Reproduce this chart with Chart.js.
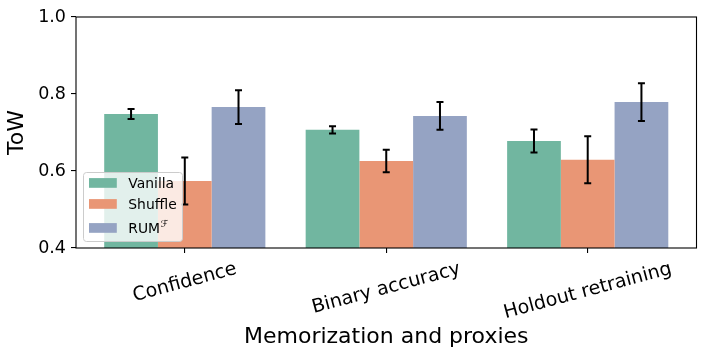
<!DOCTYPE html>
<html>
<head>
<meta charset="utf-8">
<script src="https://cdn.jsdelivr.net/npm/chart.js@4/dist/chart.umd.min.js"></script>
<style>
html,body{margin:0;padding:0;background:#fff;}
#wrap{width:706px;height:358px;}
</style>
</head>
<body>
<div id="wrap"><canvas id="c" width="706" height="358"></canvas></div>
<script>
// ---- data ----
const categories = ['Confidence', 'Binary accuracy', 'Holdout retraining'];
const seriesNames = ['Vanilla', 'Shuffle', 'RUMℱ'];
const vanilla    = [0.748, 0.707, 0.678];
const vanillaErr = [0.013, 0.0095, 0.030];
const shuffle    = [0.574, 0.626, 0.629];
const shuffleErr = [0.061, 0.029, 0.061];
const rum        = [0.766, 0.743, 0.779];
const rumErr     = [0.044, 0.036, 0.049];
const yTicks     = [0.4, 0.6, 0.8, 1.0];

const colors = ['#71b6a0', '#e99675', '#95a3c3'];
const FONT = "'DejaVu Sans', sans-serif";

const values = [vanilla, shuffle, rum];
const errors = [vanillaErr, shuffleErr, rumErr];

const datasets = values.map((vals, k) => ({
  label: seriesNames[k],
  data: vals.map((v, i) => ({x: i, y: v})),
  backgroundColor: colors[k],
  borderWidth: 0,
  categoryPercentage: 0.8,
  barPercentage: 1.0,
  errors: errors[k]
}));

const errorBarPlugin = {
  id: 'errorBars',
  afterDatasetsDraw(chart) {
    const ctx = chart.ctx;
    const y = chart.scales.y;
    ctx.save();
    ctx.strokeStyle = '#000';
    ctx.lineWidth = 2;
    chart.data.datasets.forEach((ds, k) => {
      const meta = chart.getDatasetMeta(k);
      meta.data.forEach((bar, i) => {
        const v = ds.data[i].y, e = ds.errors[i];
        const yt = y.getPixelForValue(v + e), yb = y.getPixelForValue(v - e);
        const x = bar.x;
        ctx.beginPath();
        ctx.moveTo(x, yt); ctx.lineTo(x, yb);
        ctx.moveTo(x - 3.5, yt); ctx.lineTo(x + 3.5, yt);
        ctx.moveTo(x - 3.5, yb); ctx.lineTo(x + 3.5, yb);
        ctx.stroke();
      });
    });
    ctx.restore();
  }
};

const framePlugin = {
  id: 'frameAndLabels',
  afterDraw(chart) {
    const ctx = chart.ctx;
    const a = chart.chartArea;
    ctx.save();
    // frame
    ctx.strokeStyle = '#000';
    ctx.lineWidth = 1.1;
    ctx.strokeRect(a.left, a.top, a.right - a.left, a.bottom - a.top);
    // rotated x tick labels (centered under ticks like matplotlib)
    const xs = chart.scales.x;
    const fs = 19;
    ctx.font = fs + 'px ' + FONT;
    ctx.fillStyle = '#000';
    ctx.textAlign = 'center';
    ctx.textBaseline = 'middle';
    const ang = 15 * Math.PI / 180;
    categories.forEach((lab, i) => {
      const px = xs.getPixelForValue(i);
      const w = ctx.measureText(lab).width;
      const h = fs * 1.17;
      const bh = w * Math.sin(ang) + h * Math.cos(ang);
      const cy = a.bottom + 10 + bh / 2;
      ctx.save();
      ctx.translate(px, cy);
      ctx.rotate(-ang);
      ctx.fillText(lab, 0, 0);
      ctx.restore();
    });
    // legend
    const lx = 83.5, ly = 172.5, lw = 99, lh = 69, r = 3;
    ctx.beginPath();
    ctx.moveTo(lx + r, ly);
    ctx.arcTo(lx + lw, ly, lx + lw, ly + lh, r);
    ctx.arcTo(lx + lw, ly + lh, lx, ly + lh, r);
    ctx.arcTo(lx, ly + lh, lx, ly, r);
    ctx.arcTo(lx, ly, lx + lw, ly, r);
    ctx.closePath();
    ctx.fillStyle = 'rgba(255,255,255,0.8)';
    ctx.fill();
    ctx.strokeStyle = '#cccccc';
    ctx.lineWidth = 1;
    ctx.stroke();
    const rows = [183, 204, 228];
    chart.data.datasets.forEach((ds, k) => {
      const cy = rows[k];
      ctx.fillStyle = ds.backgroundColor;
      ctx.fillRect(89, cy - 4.9, 27.8, 9.7);
      ctx.fillStyle = '#000';
      ctx.textAlign = 'left';
      ctx.textBaseline = 'alphabetic';
      ctx.font = '13.9px ' + FONT;
      let label = ds.label;
      let sup = '';
      if (label.endsWith('ℱ')) { sup = 'ℱ'; label = label.slice(0, -1); }
      ctx.fillText(label, 128.3, cy + 5);
      if (sup) {
        const w = ctx.measureText(label).width;
        ctx.font = 'italic 9.7px ' + FONT;
        ctx.fillText(sup, 128.3 + w + 0.5, cy - 1);
      }
    });
    ctx.restore();
  }
};

new Chart(document.getElementById('c'), {
  type: 'bar',
  data: { datasets },
  options: {
    responsive: false,
    devicePixelRatio: 1,
    animation: false,
    layout: { padding: { left: 0, right: 9.5, top: 17, bottom: 0 } },
    plugins: { legend: { display: false }, tooltip: { enabled: false } },
    scales: {
      x: {
        type: 'linear',
        min: -0.54, max: 2.54,
        offset: false,
        grid: { offset: false, drawOnChartArea: false, drawTicks: true, tickLength: 5, color: '#000', lineWidth: 1.1 },
        border: { display: false },
        ticks: { display: false },
        afterBuildTicks: (s) => { s.ticks = categories.map((c, i) => ({ value: i })); },
        afterFit: (s) => { s.height = 110; },
        title: { display: true, text: 'Memorization and proxies', color: '#000',
                 font: { family: FONT, size: 22 }, padding: { top: 0, bottom: 8 } }
      },
      y: {
        min: 0.4, max: 1.0,
        grid: { drawOnChartArea: false, drawTicks: true, tickLength: 5, color: '#000', lineWidth: 1.1 },
        border: { display: false },
        afterBuildTicks: (s) => { s.ticks = yTicks.map(v => ({ value: v })); },
        ticks: { color: '#000', font: { family: FONT, size: 17.5 }, padding: 5,
                 callback: (v) => Number(v).toFixed(1) },
        afterFit: (s) => { s.width = 76; },
        title: { display: true, text: 'ToW', color: '#000',
                 font: { family: FONT, size: 22 }, padding: { top: 4, bottom: 0 } }
      }
    }
  },
  plugins: [errorBarPlugin, framePlugin]
});
</script>
</body>
</html>
